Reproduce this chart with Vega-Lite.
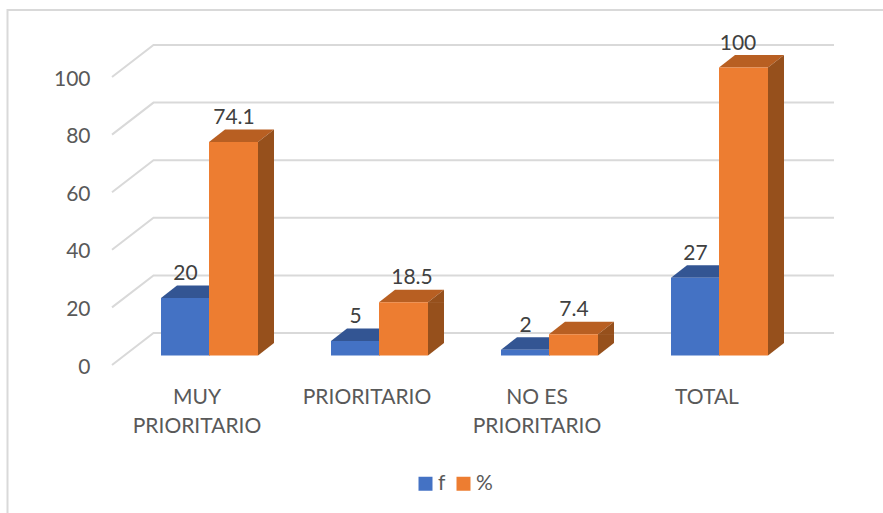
{
"$schema":"https://vega.github.io/schema/vega-lite/v6.json",
"width":680,"height":288,
"autosize":{"type":"none"},
"padding":{"left":112,"top":77,"right":91,"bottom":148},
"background":"white",
"config":{"view":{"stroke":null},"font":"Lato"},
"datasets":{
"bars":[
{"cat":"MUY PRIORITARIO","s":"f","v":20},
{"cat":"MUY PRIORITARIO","s":"%","v":74.1},
{"cat":"PRIORITARIO","s":"f","v":5},
{"cat":"PRIORITARIO","s":"%","v":18.5},
{"cat":"NO ES PRIORITARIO","s":"f","v":2},
{"cat":"NO ES PRIORITARIO","s":"%","v":7.4},
{"cat":"TOTAL","s":"f","v":27},
{"cat":"TOTAL","s":"%","v":100}],
"ticks":[{"t":0},{"t":20},{"t":40},{"t":60},{"t":80},{"t":100}]},
"encoding":{
"x":{"field":"cat","type":"nominal","sort":null,"scale":{"domain":["MUY PRIORITARIO","PRIORITARIO","NO ES PRIORITARIO","TOTAL"],"paddingInner":0.2,"paddingOuter":0.1},
"axis":{"title":null,"orient":"bottom","domain":false,"ticks":false,"labelAngle":0,"labelFontSize":21,"labelColor":"#595959","labelPadding":21,"labelLineHeight":29,"labelLimit":300,
"labelExpr":"datum.value=='MUY PRIORITARIO'?['MUY','PRIORITARIO']:datum.value=='NO ES PRIORITARIO'?['NO ES','PRIORITARIO']:datum.value"}}},
"layer":[
{"data":{"name":"ticks"},"mark":{"type":"point","shape":"M-189.5,436L-189.5,-67L686,-67","size":4,"filled":false,"stroke":"#d9d9d9","strokeWidth":2,"opacity":1},
"transform":[{"filter":"datum.t==100"}],
"encoding":{"x":{"datum":"MUY PRIORITARIO"},"y":{"datum":100,"type":"quantitative"}}},
{"data":{"name":"ticks"},"mark":{"type":"point","shape":"M-85,0L-43.5,-32L637,-32","size":4,"filled":false,"stroke":"#d9d9d9","strokeWidth":2,"opacity":1},
"encoding":{"x":{"datum":"MUY PRIORITARIO"},"y":{"field":"t","type":"quantitative","scale":{"domain":[0,100],"nice":false},
"axis":{"title":null,"domain":false,"ticks":false,"grid":false,"values":[0,20,40,60,80,100],"labelFontSize":21,"labelColor":"#595959","labelPadding":22,"labelOffset":2}}}},

{"data":{"name":"bars"},"transform":[{"filter":"datum.s=='f'"}],"mark":{"type":"point","shape":"M-24.5,0L-8.5,-12.5L40.5,-12.5L24.5,0Z","size":4,"filled":true,"fill":"#335593","stroke":null,"opacity":1,"xOffset":-11.5,"yOffset":-9.5},
"encoding":{"y":{"field":"v","type":"quantitative"}}},
{"data":{"name":"bars"},"transform":[{"filter":"datum.s=='f'"}],"mark":{"type":"bar","width":49,"xOffset":-11.5,"yOffset":-9.5,"y2Offset":-9.5},
"encoding":{"y":{"field":"v","type":"quantitative"},"y2":{"datum":0},"color":{"field":"s","type":"nominal","sort":null,"scale":{"domain":["f","%"],"range":["#4472c4","#ed7d31"]},
"legend":{"title":null,"orient":"none","legendX":303,"legendY":396,"direction":"horizontal","symbolType":"square","symbolSize":196,"symbolStrokeWidth":0,"symbolOpacity":1,"labelFontSize":21,"labelColor":"#595959","columnPadding":7,"labelOffset":2}}}},

{"data":{"name":"bars"},"transform":[{"filter":"datum.s=='%'"}],"mark":{"type":"bar","width":16,"color":"#96501c","xOffset":69,"yOffset":-9.5,"y2Offset":-22},
"encoding":{"y":{"field":"v","type":"quantitative"},"y2":{"datum":0}}},
{"data":{"name":"bars"},"transform":[{"filter":"datum.s=='%'"}],"mark":{"type":"point","shape":"M-24.5,0L-8.5,-12.5L40.5,-12.5L24.5,0Z","size":4,"filled":true,"fill":"#b85f22","stroke":null,"opacity":1,"xOffset":36.5,"yOffset":-9.5},
"encoding":{"y":{"field":"v","type":"quantitative"}}},
{"data":{"name":"bars"},"transform":[{"filter":"datum.s=='%'"}],"mark":{"type":"point","shape":"M24.5,0L40.5,-12.5L40.5,0.5L24.5,0.5Z","size":4,"filled":true,"fill":"#96501c","stroke":null,"opacity":1,"xOffset":36.5,"yOffset":-9.5},
"encoding":{"y":{"field":"v","type":"quantitative"}}},
{"data":{"name":"bars"},"transform":[{"filter":"datum.s=='%'"}],"mark":{"type":"point","shape":"M24.5,0L40.5,-12.5L40.5,-13L24.5,-13Z","size":4,"filled":true,"fill":"#96501c","stroke":null,"opacity":1,"xOffset":36.5,"yOffset":-9.5},
"encoding":{"y":{"datum":0,"type":"quantitative"}}},
{"data":{"name":"bars"},"transform":[{"filter":"datum.s=='%'"}],"mark":{"type":"bar","width":49,"xOffset":36.5,"yOffset":-9.5,"y2Offset":-9.5},
"encoding":{"y":{"field":"v","type":"quantitative"},"y2":{"datum":0},"color":{"field":"s","type":"nominal","sort":null}}},

{"data":{"name":"bars"},"transform":[{"filter":"datum.s=='f'"}],"mark":{"type":"text","fontSize":21,"color":"#404040","baseline":"middle","xOffset":-11.5,"yOffset":-33.5},
"encoding":{"y":{"field":"v","type":"quantitative"},"text":{"field":"v","type":"quantitative"}}},
{"data":{"name":"bars"},"transform":[{"filter":"datum.s=='%' && datum.v!=18.5 && datum.v!=100"}],"mark":{"type":"text","fontSize":21,"color":"#404040","baseline":"middle","xOffset":37,"yOffset":-33.5},
"encoding":{"y":{"field":"v","type":"quantitative"},"text":{"field":"v","type":"quantitative"}}},
{"data":{"name":"bars"},"transform":[{"filter":"datum.v==18.5"}],"mark":{"type":"text","fontSize":21,"color":"#404040","baseline":"middle","xOffset":45,"yOffset":-33.5},
"encoding":{"y":{"field":"v","type":"quantitative"},"text":{"field":"v","type":"quantitative"}}},
{"data":{"name":"bars"},"transform":[{"filter":"datum.v==100"}],"mark":{"type":"text","fontSize":21,"color":"#404040","baseline":"middle","xOffset":31,"yOffset":-33.5},
"encoding":{"y":{"field":"v","type":"quantitative"},"text":{"field":"v","type":"quantitative"}}}
]
}
